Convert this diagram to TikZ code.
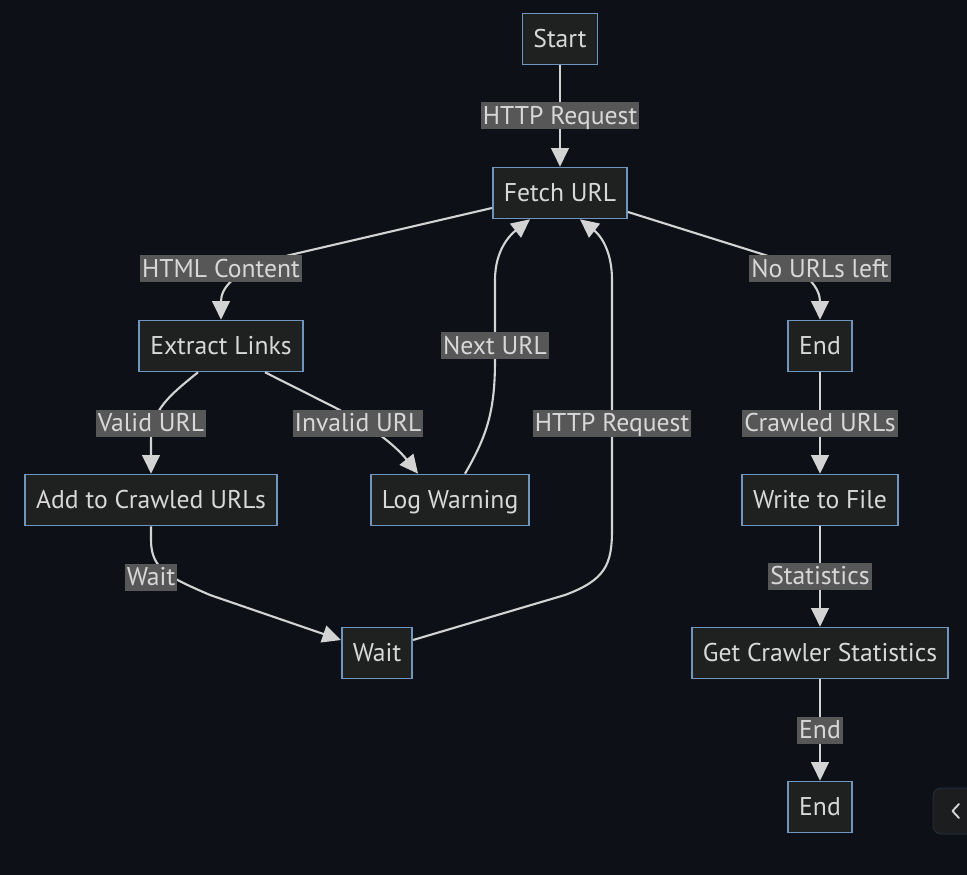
\documentclass[tikz,border=0pt]{standalone}
\usepackage{fontspec}
\setmainfont{PT Sans}
\usepackage{xcolor}
\usetikzlibrary{arrows.meta}

\definecolor{pagebg}{HTML}{0D1117}
\definecolor{boxfill}{HTML}{1F2020}
\definecolor{boxline}{HTML}{6E96BE}
\definecolor{lblfill}{HTML}{575757}
\definecolor{txt}{HTML}{D8D8D8}
\definecolor{edge}{HTML}{D3D3D3}

\begin{document}
\begin{tikzpicture}[
    scale=1,
    font=\fontsize{14.6pt}{17pt}\selectfont,
    box/.style={
        draw=boxline,
        fill=boxfill,
        line width=0.9pt,
        text=txt,
        rectangle,
        minimum height=1.02cm,
        inner xsep=0.22cm,
        text height=2.15ex,
        text depth=0.2ex,
        align=center
    },
    lbl/.style={
        fill=lblfill,
        text=txt,
        minimum height=0.54cm,
        inner xsep=0.04cm,
        inner ysep=0pt,
        text height=2.1ex,
        text depth=0.2ex
    },
    arr/.style={
        draw=edge,
        line width=1.2pt,
        -{Triangle[length=3.7mm,width=3.5mm]}
    }
]

% Background
\fill[pagebg] (0,0) rectangle (19.34,-17.5);
\useasboundingbox (0,0) rectangle (19.34,-17.5);

% Nodes
\node[box] (start) at (11.2,-0.78) {Start};
\node[box] (fetch) at (11.2,-3.86) {Fetch URL};

\node[box] (extract) at (4.42,-6.92) {Extract Links};
\node[box] (end1) at (16.4,-6.92) {End};

\node[box] (add) at (3.02,-10.0) {Add to Crawled URLs};
\node[box] (log) at (9.0,-10.0) {Log Warning};
\node[box] (write) at (16.4,-10.0) {Write to File};

\node[box] (wait) at (7.54,-13.06) {Wait};
\node[box] (stats) at (16.4,-13.06) {Get Crawler Statistics};

\node[box] (end2) at (16.4,-16.14) {End};

% Connections
\draw[arr] (start) -- node[lbl] {HTTP Request} (fetch);

\draw[arr] ([yshift=-0.3cm]fetch.west) -- (5.8,-5.1)
    .. controls (4.6,-5.4) and (4.42,-5.8) .. (extract.north);
\draw[arr] ([yshift=-0.38cm]fetch.east) -- (15.3,-5.1)
    .. controls (16.2,-5.4) and (16.4,-5.8) .. (end1.north);

\draw[arr] ([xshift=-0.46cm]extract.south)
    .. controls (3.4,-7.9) and (3.02,-8.2) .. (3.02,-8.8) -- (add.north);
\draw[arr] ([xshift=0.88cm]extract.south) -- (6.6,-8.1)
    .. controls (7.4,-8.5) and (7.9,-8.9) .. ([xshift=-0.64cm]log.north);

\draw[arr] ([xshift=0.3cm]log.north)
    .. controls (9.75,-8.7) and (9.9,-8.2) .. (9.9,-7.2) -- (9.9,-5.6)
    .. controls (9.9,-5.0) and (10.2,-4.7) .. ([xshift=-0.6cm]fetch.south);

\draw[arr] (add.south) -- (3.02,-10.8)
    .. controls (3.02,-11.4) and (3.4,-11.55) .. (4.2,-11.9)
    -- ([yshift=0.26cm]wait.west);

\draw[arr] ([yshift=0.26cm]wait.east) -- (11.3,-11.9)
    .. controls (12.1,-11.6) and (12.24,-11.3) .. (12.24,-10.6) -- (12.24,-5.6)
    .. controls (12.24,-5.0) and (12.0,-4.7) .. ([xshift=0.4cm]fetch.south);

\draw[arr] (end1) -- node[lbl] {Crawled URLs} (write);
\draw[arr] (write) -- node[lbl] {Statistics} (stats);
\draw[arr] (stats) -- node[lbl] {End} (end2);

% Edge labels
\node[lbl] (l-html) at (4.42,-5.38) {HTML Content};
\node[lbl] (l-none) at (16.4,-5.38) {No URLs left};
\node[lbl] (l-next) at (9.9,-6.92) {Next URL};
\node[lbl] (l-valid) at (3.02,-8.46) {Valid URL};
\node[lbl] (l-invalid) at (7.16,-8.46) {Invalid URL};
\node[lbl] (l-http) at (12.24,-8.46) {HTTP Request};
\node[lbl] (l-wait) at (3.02,-11.54) {Wait};

% Side button
\filldraw[fill=boxfill!80!pagebg, draw=boxline!25!pagebg, rounded corners=0.16cm]
    (18.66,-15.76) rectangle (19.6,-16.68);
\draw[edge, line width=1.1pt, line cap=round, line join=round]
    (19.18,-16.08) -- (19.05,-16.22) -- (19.18,-16.36);

\end{tikzpicture}
\end{document}
